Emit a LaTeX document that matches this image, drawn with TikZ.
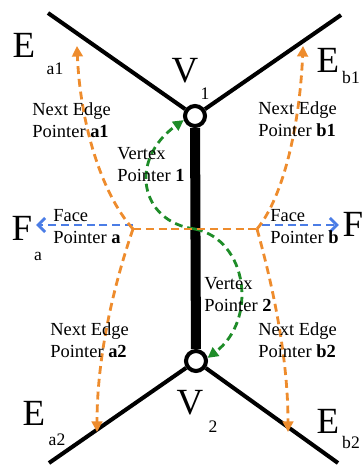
\documentclass[tikz,border=0pt]{standalone}
\usepackage{fontspec}
\setmainfont{Liberation Serif}
\usetikzlibrary{arrows.meta}
\definecolor{nextorange}{RGB}{238,140,45}
\definecolor{vertgreen}{RGB}{30,140,40}
\definecolor{faceblue}{RGB}{75,125,230}

\begin{document}
\begin{tikzpicture}[x=0.02cm,y=-0.02cm,
  edge/.style={line width=2.3pt},
  ptr/.style={line width=1.6pt,dash pattern=on 4.5pt off 2.8pt},
  lbl/.style={anchor=west,align=left,inner sep=0pt,font=\fontsize{10.5}{12.5}\selectfont},
  big/.style={inner sep=2pt,font=\fontsize{21}{24}\selectfont},
  sub/.style={inner sep=0pt,font=\fontsize{10}{12}\selectfont},
  vtx/.style={circle,draw,fill=white,line width=2.3pt,minimum size=0.4cm,inner sep=0pt}]
\useasboundingbox (0,0) rectangle (362,466);

% the edge and its vertices
\node[vtx] (V1) at (195,116) {};
\node[vtx] (V2) at (196,361) {};
\coordinate (ea1) at (48,13);
\coordinate (eb1) at (341,15);
\coordinate (ea2) at (49,463);
\coordinate (eb2) at (338,463);
\draw[edge] (ea1) -- (V1) -- (eb1);
\draw[edge] (ea2) -- (V2) -- (eb2);
\draw[line width=5.7pt] (V1) -- (V2);

% letters
\node[big] (Ea1) at (24,45) {E};  \node[sub] (Ea1s) at (55,69) {a1};
\node[big] (Eb1) at (328,60) {E}; \node[sub] (Eb1s) at (351,77) {b1};
\node[big] (Ea2) at (34,413) {E}; \node[sub] (Ea2s) at (57,440) {a2};
\node[big] (Eb2) at (328,421) {E}; \node[sub] (Eb2s) at (351,442) {b2};
\node[big] (V1l) at (185,71) {V};  \node[sub] (V1s) at (205,94) {1};
\node[big] (V2l) at (190,403) {V}; \node[sub] (V2s) at (213,427) {2};
\node[big] (Fa) at (22,228) {F};   \node[sub] (Fas) at (38,256) {a};
\node[big] (Fb) at (353,224) {F};

% pointers
\coordinate (mid) at (195,229);
\coordinate (cl) at (133,229);
\coordinate (cr) at (257,229);
\coordinate (ta1) at (77,46);
\coordinate (tb1) at (303,46);
\coordinate (ta2) at (97,432);
\coordinate (tb2) at (288,432);
\coordinate (bl) at (133,225);
\coordinate (br) at (262,225);
\draw[ptr,faceblue,-{Straight Barb[length=4pt,width=8pt]}] (bl) -- (Fa.east |- bl);
\draw[ptr,faceblue,-{Straight Barb[length=4pt,width=8pt]}] (br) -- (Fb.west |- br);
\draw[ptr,vertgreen,-{Triangle[length=6pt,width=6pt]}] (mid) .. controls (140,222) and (128,160) .. (V1.200);
\draw[ptr,vertgreen,-{Triangle[length=6pt,width=6pt]}] (mid) .. controls (248,240) and (258,320) .. (V2.15);
\draw[ptr,nextorange] (cl) -- (cr);
\draw[ptr,nextorange,-{Triangle[length=6pt,width=6pt]}] (cl) .. controls (100,192) and (80,120) .. (ta1);
\draw[ptr,nextorange,-{Triangle[length=6pt,width=6pt]}] (cl) .. controls (112,290) and (97,360) .. (ta2);
\draw[ptr,nextorange,-{Triangle[length=6pt,width=6pt]}] (cr) .. controls (285,195) and (300,120) .. (tb1);
\draw[ptr,nextorange,-{Triangle[length=6pt,width=6pt]}] (cr) .. controls (274,290) and (288,360) .. (tb2);

% labels
\node[lbl] (na1) at (32,120) {Next Edge\\Pointer \textbf{a1}};
\node[lbl] (nb1) at (258,119) {Next Edge\\Pointer \textbf{b1}};
\node[lbl] (vp1) at (117,165) {Vertex\\Pointer \textbf{1}};
\node[lbl] (fpa) at (53,227) {Face\\Pointer \textbf{a}};
\node[lbl] (fpb) at (270,227) {Face\\Pointer \textbf{b}};
\node[lbl] (vp2) at (204,295) {Vertex\\Pointer \textbf{2}};
\node[lbl] (na2) at (50,340) {Next Edge\\Pointer \textbf{a2}};
\node[lbl] (nb2) at (258,340) {Next Edge\\Pointer \textbf{b2}};
\end{tikzpicture}
\end{document}
